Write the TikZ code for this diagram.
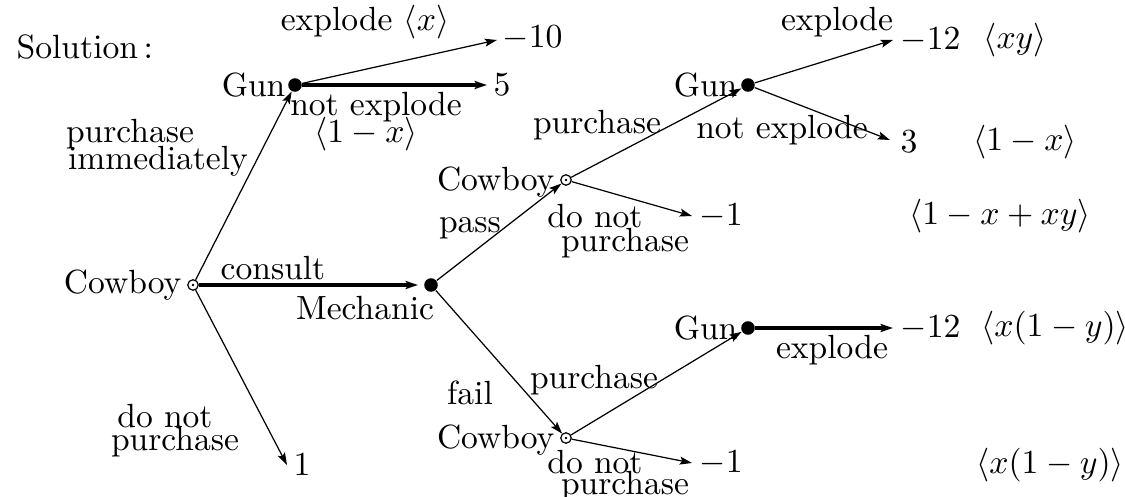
\documentclass[tikz,border=0pt]{standalone}
\usetikzlibrary{arrows.meta}
\begin{document}
\begin{tikzpicture}[x=0.325pt,y=-0.325pt,
  thinl/.style={line width=0.4pt},
  thickl/.style={line width=1pt},
  arr/.style={-{Stealth[length=4pt,width=2.6pt,inset=0.8pt]}},
  chance/.style={circle,fill=black,inner sep=0pt,minimum size=4.4pt},
  decis/.style={circle,draw,line width=0.4pt,inner sep=0pt,minimum size=3.4pt,
     path picture={\fill (path picture bounding box.center) circle (0.45pt);}},
  lbl/.style={inner sep=0pt,font=\fontsize{10.9}{13}\selectfont}]
\useasboundingbox (0,0) rectangle (1125,497);
% decision / chance nodes
\node[decis] (R) at (193,285) {};
\node[chance] (GA) at (295,85) {};
\node[chance] (M) at (431,285) {};
\node[decis] (CU) at (566,180) {};
\node[decis] (CL) at (566,438) {};
\node[chance] (GU) at (748,85) {};
\node[chance] (GL) at (748,328) {};
% end points
\coordinate (E10) at (497,40);
\coordinate (E5) at (487,85);
\coordinate (E1) at (287,465);
\coordinate (C) at (418,285);
\coordinate (EU12) at (893,40);
\coordinate (EU3) at (890,140);
\coordinate (EUm1) at (692,216);
\coordinate (EL12) at (893,328);
\coordinate (ELm1) at (692,463);
% connectors
\draw[thinl,arr] (R) -- (GA);
\draw[thickl,arr] (R) -- (C);
\draw[thinl,arr] (R) -- (E1);
\draw[thinl,arr] (GA) -- (E10);
\draw[thickl,arr] (GA) -- (E5);
\draw[thinl,arr] (M) -- (CU);
\draw[thinl,arr] (M) -- (CL);
\draw[thinl,arr] (CU) -- (GU);
\draw[thinl,arr] (CU) -- (EUm1);
\draw[thinl,arr] (GU) -- (EU12);
\draw[thinl,arr] (GU) -- (EU3);
\draw[thinl,arr] (CL) -- (GL);
\draw[thinl,arr] (CL) -- (ELm1);
\draw[thickl,arr] (GL) -- (EL12);
% title
\node[lbl,anchor=west] (T) at (16,47) {$\mathrm{Solution}\,{:}$};
% node names
\node[lbl,anchor=east] (nR) at (182,285) {Cowboy};
\node[lbl,anchor=east] (nGA) at (286,85) {Gun};
\node[lbl] (nM) at (365,308) {Mechanic};
\node[lbl,anchor=east] (nCU) at (555,182) {Cowboy};
\node[lbl,anchor=east] (nCL) at (555,440) {Cowboy};
\node[lbl,anchor=east] (nGU) at (738,85) {Gun};
\node[lbl,anchor=east] (nGL) at (738,328) {Gun};
% payoffs
\node[lbl,anchor=west] (p10) at (502,38) {$-10$};
\node[lbl,anchor=west] (p5) at (493,85) {$5$};
\node[lbl,anchor=west] (p1) at (293,465) {$1$};
\node[lbl,anchor=west] (pu12) at (900,40) {$-12$};
\node[lbl,anchor=west] (pu3) at (900,142) {$3$};
\node[lbl,anchor=west] (pum1) at (699,216) {$-1$};
\node[lbl,anchor=west] (pl12) at (900,328) {$-12$};
\node[lbl,anchor=west] (plm1) at (699,463) {$-1$};
% probabilities
\node[lbl] (q1) at (1015,40) {$\langle xy\rangle$};
\node[lbl] (q2) at (1025,142) {$\langle 1-x\rangle$};
\node[lbl] (q3) at (1000,216) {$\langle 1-x+xy\rangle$};
\node[lbl] (q4) at (1055,328) {$\langle x(1-y)\rangle$};
\node[lbl] (q5) at (1050,465) {$\langle x(1-y)\rangle$};
% edge labels
\node[lbl] (l1) at (365,22) {explode $\langle x\rangle$};
\node[lbl] (l2) at (376,107) {not explode};
\node[lbl] (l3) at (366,134) {$\langle 1-x\rangle$};
\node[lbl] (l4) at (130,134) {purchase};
\node[lbl] (l5) at (158,161) {immediately};
\node[lbl] (l6) at (273,268) {consult};
\node[lbl] (l7) at (165,416) {do not};
\node[lbl] (l8) at (175,442) {purchase};
\node[lbl] (l9) at (470,228) {pass};
\node[lbl] (l10) at (470,393) {fail};
\node[lbl] (l11) at (597,125) {purchase};
\node[lbl] (l12) at (594,380) {purchase};
\node[lbl] (l13) at (595,216) {do not};
\node[lbl] (l14) at (625,243) {purchase};
\node[lbl] (l15) at (837,22) {explode};
\node[lbl] (l16) at (782,130) {not explode};
\node[lbl] (l17) at (832,350) {explode};
\node[lbl] (l18) at (595,462) {do not};
\node[lbl] (l19) at (625,486) {purchase};
\end{tikzpicture}
\end{document}
